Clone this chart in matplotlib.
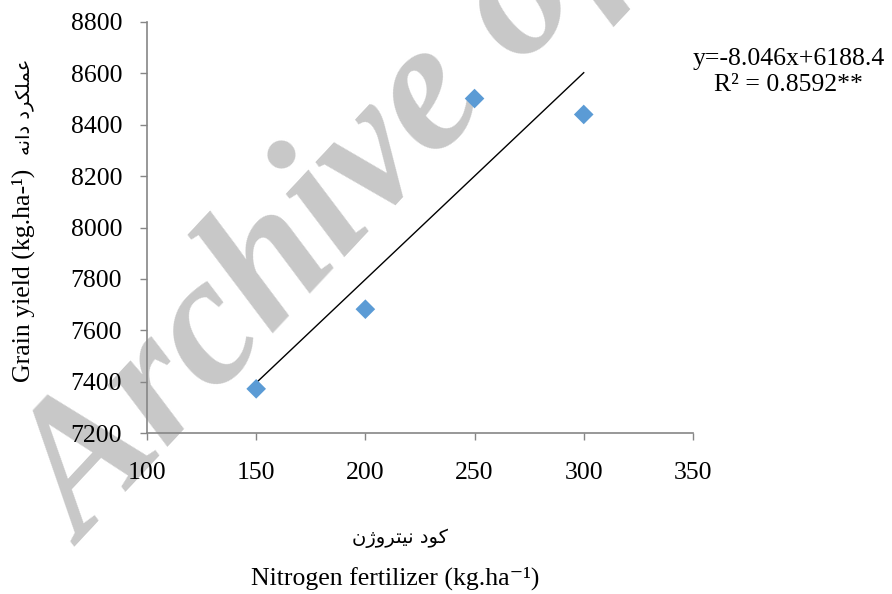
import numpy as np
import matplotlib.pyplot as plt

# data
nitrogen = [150, 200, 250, 300]
grain_yield = [7372, 7682, 8502, 8440]
x_ticks = [100, 150, 200, 250, 300, 350]
y_ticks = [7200, 7400, 7600, 7800, 8000, 8200, 8400, 8600, 8800]

# persian labels, written in visual order with presentation forms
fa_ylabel = "\uFEEA\uFEE7\uFE8D\uFEA9 \uFEA9\uFEAE\uFB91\uFEE0\uFEE4\uFECB"
fa_xlabel = "\uFEE5\uFB8A\uFEED\uFEAE\uFE98\uFBFF\uFEE7 \uFEA9\uFEEE\uFB90"

plt.rcParams['font.family'] = ['Liberation Serif', 'DejaVu Sans']

fig = plt.figure(figsize=(8.92, 5.94), dpi=100)
ax = fig.add_axes([0.1648, 0.271, 0.612, 0.692])
ax.patch.set_alpha(0)

# watermark, kept under the axes
fig.text(0.095, 0.080, "Archive of SID", fontsize=134, color='#c8c8c8',
         fontweight='bold', fontstyle='italic', rotation=47,
         rotation_mode='anchor', ha='left', va='baseline', zorder=-1,
         family='Liberation Serif')

# trend line
coef = np.polyfit(nitrogen, grain_yield, 1)
xs = np.array([nitrogen[0], nitrogen[-1]])
ax.plot(xs, np.polyval(coef, xs), color='black', lw=1.0, zorder=2)
ax.scatter(nitrogen, grain_yield, marker='D', s=100, color='#5b9bd5',
           edgecolors='none', zorder=3)

ax.set_xlim(100, 350)
ax.set_ylim(7200, 8800)
ax.set_xticks(x_ticks)
ax.set_yticks(y_ticks)
for s in ['top', 'right']:
    ax.spines[s].set_visible(False)
for s in ['left', 'bottom']:
    ax.spines[s].set_color('#868686')
    ax.spines[s].set_linewidth(1.2)
ax.tick_params(colors='#868686', length=5, width=1, labelsize=18.5,
               labelcolor='black')
ax.tick_params(axis='x', pad=16)
ax.tick_params(axis='y', pad=13)

fig.text(0.884, 0.901, "y=-8.046x+6188.4", ha='center', va='center', fontsize=18.5)
fig.text(0.884, 0.857, "R² = 0.8592**", ha='center', va='center', fontsize=18.5)

fig.text(0.443, 0.027, "Nitrogen fertilizer (kg.ha\u207b\u00b9)", ha='center',
         va='center', fontsize=18.5)
fig.text(0.448, 0.094, fa_xlabel, ha='center', va='center', fontsize=14,
         family=['DejaVu Sans'])
fig.text(0.026, 0.537, "Grain yield (kg.ha-\u00b9)", rotation=90,
         ha='center', va='center', fontsize=18.5)
fig.text(0.029, 0.820, fa_ylabel, rotation=90, ha='center', va='center',
         fontsize=14, family=['DejaVu Sans'])

fig.savefig("out.png", dpi=100)
